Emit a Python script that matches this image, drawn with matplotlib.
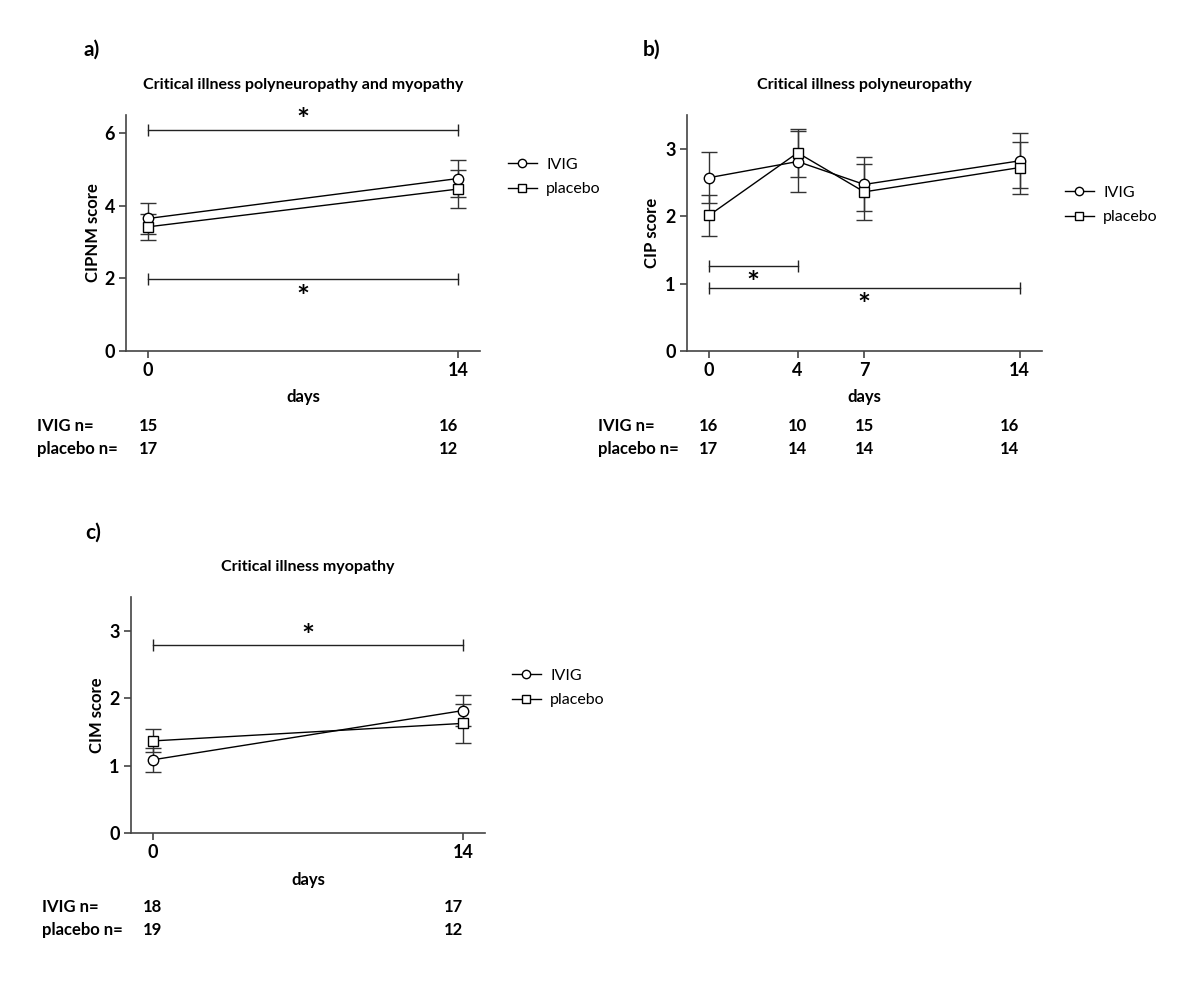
import numpy as np
import matplotlib.pyplot as plt
from matplotlib.lines import Line2D

plt.rcParams['font.family'] = ['Lato', 'DejaVu Sans']
plt.rcParams['font.weight'] = 'bold'

W, H = 1200, 998

# panel a: CIPNM
a_days = [0, 14]
a_ivig = [3.65, 4.75]
a_ivig_err = [0.44, 0.51]
a_plac = [3.42, 4.46]
a_plac_err = [0.35, 0.53]
a_n_ivig = [15, 16]
a_n_plac = [17, 12]

# panel b: CIP
b_days = [0, 4, 7, 14]
b_ivig = [2.57, 2.81, 2.47, 2.82]
b_ivig_err = [0.38, 0.45, 0.40, 0.41]
b_plac = [2.01, 2.94, 2.36, 2.72]
b_plac_err = [0.31, 0.355, 0.41, 0.385]
b_n_ivig = [16, 10, 15, 16]
b_n_plac = [17, 14, 14, 14]

# panel c: CIM
c_days = [0, 14]
c_ivig = [1.09, 1.82]
c_ivig_err = [0.18, 0.23]
c_plac = [1.37, 1.63]
c_plac_err = [0.17, 0.29]
c_n_ivig = [18, 17]
c_n_plac = [19, 12]

fig = plt.figure(figsize=(W / 100, H / 100), dpi=100)


def rect(l, t, r, b):
    return [l / W, 1 - b / H, (r - l) / W, (b - t) / H]


def sig_bar(ax, x0, x1, y, ys):
    ax.plot([x0, x1], [y, y], color='#222222', lw=1, clip_on=False)
    ax.plot([x0, x1], [y, y], ls='none', marker='|', ms=8, mew=1,
            color='#222222', clip_on=False)
    sx = (x0 + x1) / 2 if ys[0] is None else ys[0]
    ax.annotate('*', (sx, ys[1]), xytext=(0, -4), textcoords='offset points',
                ha='center', va='center', fontsize=22, fontweight='bold')


def panel(pos, days, ivig, ivig_err, plac, plac_err, ylim, yticks, title,
          ylabel, letter, letter_xy, legend_xy, n_ivig, n_plac, n_y, n_x0,
          ylabel_px):
    ax = fig.add_axes(rect(*pos))
    ax.errorbar(days, ivig, yerr=ivig_err, fmt='none', ecolor='#333333',
                elinewidth=1, capsize=6, capthick=1, clip_on=False)
    ax.errorbar(days, plac, yerr=plac_err, fmt='none', ecolor='#333333',
                elinewidth=1, capsize=6, capthick=1, clip_on=False)
    ax.plot(days, ivig, color='black', lw=1, marker='o', ms=7.5,
            mfc='white', mec='black', mew=1, clip_on=False)
    ax.plot(days, plac, color='black', lw=1, marker='s', ms=7,
            mfc='white', mec='black', mew=1, clip_on=False)
    ax.set_xlim(-1, 15)
    ax.set_ylim(*ylim)
    ax.set_xticks(days, [str(d) for d in days], fontweight='bold',
                  fontsize=13)
    ax.set_yticks(yticks, [str(t) for t in yticks], fontweight='bold',
                  fontsize=13)
    for s in ['top', 'right']:
        ax.spines[s].set_visible(False)
    for s in ['left', 'bottom']:
        ax.spines[s].set_color('#444444')
        ax.spines[s].set_linewidth(1.2)
    ax.tick_params(direction='out', length=5, width=1.2, color='#444444',
                   pad=3)
    ax.set_title(title, fontsize=11.5, fontweight='bold', pad=19)
    ax.set_ylabel(ylabel, fontsize=12, fontweight='bold')
    ax.yaxis.set_label_coords((ylabel_px - pos[0]) / (pos[2] - pos[0]), 0.5)
    ax.set_xlabel('days', fontsize=12, fontweight='bold')
    ax.xaxis.set_label_coords(0.5, -0.163)
    fig.text(letter_xy[0] / W, 1 - letter_xy[1] / H, letter, fontsize=15,
             fontweight='bold', va='center')
    handles = [Line2D([], [], color='black', lw=1, marker='o', ms=6,
                      mfc='white', mec='black'),
               Line2D([], [], color='black', lw=1, marker='s', ms=5.5,
                      mfc='white', mec='black')]
    ax.legend(handles, ['IVIG', 'placebo'], loc='center left',
              bbox_to_anchor=(legend_xy[0] / W, 1 - legend_xy[1] / H),
              bbox_transform=fig.transFigure, frameon=False,
              prop={'size': 11.5, 'weight': 'normal'},
              borderpad=0, borderaxespad=0, handlelength=1.8,
              handletextpad=0.6, labelspacing=0.65)
    # n rows below the axis
    tr = ax.get_xaxis_transform()
    rows = [('IVIG n=', n_ivig, n_y[0]), ('placebo n=', n_plac, n_y[1])]
    for name, counts, yy in rows:
        fig.text(n_x0 / W, 1 - yy / H, name, fontsize=12,
                 fontweight='bold', va='center')
        yax = (1 - yy / H - ax.get_position().y0) / ax.get_position().height
        for i, (d, c) in enumerate(zip(days, counts)):
            last = i == len(days) - 1
            ax.text(d, yax, str(c), transform=tr,
                    ha='right' if last else 'center', va='center',
                    fontsize=12, fontweight='bold', clip_on=False)
    return ax


ax_a = panel((126, 115, 480, 351), a_days, a_ivig, a_ivig_err, a_plac,
             a_plac_err, (0, 6.5), [0, 2, 4, 6],
             'Critical illness polyneuropathy and myopathy', 'CIPNM score',
             'a)', (83, 50), (508, 177), a_n_ivig, a_n_plac, (426, 449), 37,
             101)
sig_bar(ax_a, 0, 14, 6.1, (None, 6.5))
sig_bar(ax_a, 0, 14, 1.98, (None, 1.6))

ax_b = panel((686.7, 115, 1041.7, 351), b_days, b_ivig, b_ivig_err, b_plac,
             b_plac_err, (0, 3.5), [0, 1, 2, 3],
             'Critical illness polyneuropathy', 'CIP score',
             'b)', (643, 50), (1065, 205), b_n_ivig, b_n_plac, (426, 449),
             598, 660)
sig_bar(ax_b, 0, 4, 1.26, (2, 1.08))
sig_bar(ax_b, 0, 14, 0.93, (7, 0.75))

ax_c = panel((130.7, 597.3, 485, 833.3), c_days, c_ivig, c_ivig_err, c_plac,
             c_plac_err, (0, 3.5), [0, 1, 2, 3],
             'Critical illness myopathy', 'CIM score',
             'c)', (85, 533), (512, 688), c_n_ivig, c_n_plac, (907, 930), 42,
             105)
sig_bar(ax_c, 0, 14, 2.80, (None, 3.0))

fig.savefig('out.png', dpi=100)
